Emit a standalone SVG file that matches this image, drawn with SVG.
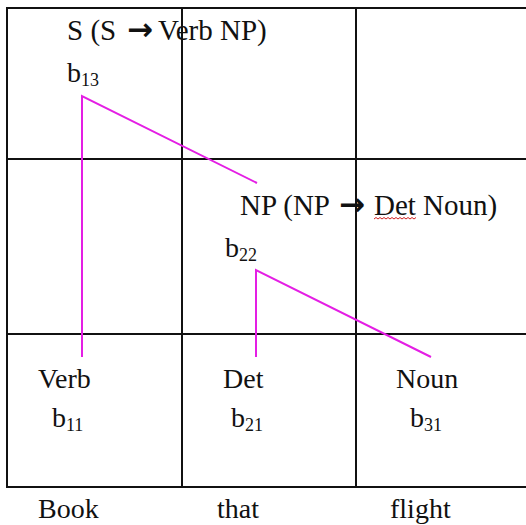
<svg xmlns="http://www.w3.org/2000/svg" width="526" height="525" viewBox="0 0 526 525">
<style>
.grid{stroke:#111;stroke-width:2;fill:none}
.edge{stroke:#e41ee4;stroke-width:2;fill:none;stroke-linejoin:miter}
text{font-family:"Liberation Serif","Times New Roman",serif;fill:#111;font-size:28px}
.rule{font-size:29px}
.sub{font-size:18px}
.arr{font-family:"DejaVu Sans",sans-serif;font-weight:bold;font-size:31px}
.word{font-size:28px}
.squig{stroke:#d02020;stroke-width:1;fill:none}
</style>
<rect width="526" height="525" fill="#fff"/>
<g id="grid">
<line class="grid" x1="7" y1="8" x2="526" y2="8"/>
<line class="grid" x1="7" y1="159" x2="526" y2="159"/>
<line class="grid" x1="7" y1="334" x2="526" y2="334"/>
<line class="grid" x1="7" y1="487" x2="526" y2="487"/>
<line class="grid" x1="7" y1="7" x2="7" y2="488"/>
<line class="grid" x1="182" y1="7" x2="182" y2="488"/>
<line class="grid" x1="356" y1="7" x2="356" y2="488"/>
</g>
<g id="connectors">
<polyline class="edge" points="82,357 82,96 257,183"/>
<polyline class="edge" points="256,357 256,270 431,357"/>
</g>
<g id="node-b13">
<text class="rule" x="67" y="40">S (S</text>
<text class="arr" x="127" y="40">→</text>
<text class="rule" x="158" y="40">Verb NP)</text>
<text x="67" y="82">b<tspan class="sub" dy="4">13</tspan></text>
</g>
<g id="node-b22">
<text class="rule" x="240" y="215">NP (NP</text>
<text class="arr" x="339" y="215">→</text>
<text class="rule" x="374" y="215">Det Noun)</text>
<path class="squig" d="M374,219 l2,-1.5 l2,1.5 l2,-1.5 l2,1.5 l2,-1.5 l2,1.5 l2,-1.5 l2,1.5 l2,-1.5 l2,1.5 l2,-1.5 l2,1.5 l2,-1.5 l2,1.5 l2,-1.5 l2,1.5 l2,-1.5 l2,1.5 l2,-1.5 l2,1.5 l2,-1.5"/>
<text x="225" y="257">b<tspan class="sub" dy="4">22</tspan></text>
</g>
<g id="node-b11">
<text x="38" y="388">Verb</text>
<text x="52" y="427">b<tspan class="sub" dy="4">11</tspan></text>
</g>
<g id="node-b21">
<text x="223" y="388">Det</text>
<text x="231" y="427">b<tspan class="sub" dy="4">21</tspan></text>
</g>
<g id="node-b31">
<text x="396" y="388">Noun</text>
<text x="410" y="427">b<tspan class="sub" dy="4">31</tspan></text>
</g>
<g id="words">
<text class="word" x="38" y="518">Book</text>
<text class="word" x="217" y="518">that</text>
<text class="word" x="390" y="518">flight</text>
</g>
</svg>
